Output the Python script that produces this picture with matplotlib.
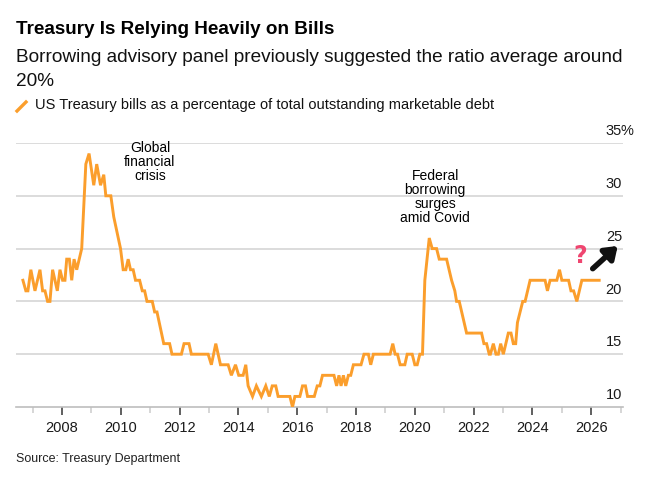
import matplotlib
matplotlib.use('Agg')
import matplotlib.pyplot as plt
import matplotlib.transforms as mtransforms
from matplotlib.lines import Line2D
import numpy as np

plt.rcParams['font.family'] = ['Liberation Sans', 'DejaVu Sans']

# vertices of the bills share line (decimal year, % of marketable debt)
years = [2006.67, 2006.77, 2006.84, 2006.94, 2007.08, 2007.25, 2007.34, 2007.42, 2007.51, 2007.59,
         2007.68, 2007.84, 2007.93, 2008.02, 2008.10, 2008.16, 2008.25, 2008.33, 2008.41, 2008.50,
         2008.67, 2008.81, 2008.92, 2009.08, 2009.18, 2009.31, 2009.42, 2009.49, 2009.66, 2009.76,
         2009.99, 2010.08, 2010.17, 2010.25, 2010.33, 2010.42, 2010.50, 2010.64, 2010.73, 2010.81,
         2010.89, 2011.07, 2011.15, 2011.23, 2011.46, 2011.66, 2011.74, 2012.06, 2012.15, 2012.32,
         2012.40, 2012.97, 2013.08, 2013.23, 2013.39, 2013.65, 2013.76, 2013.90, 2014.01, 2014.16,
         2014.25, 2014.33, 2014.48, 2014.61, 2014.78, 2014.93, 2015.05, 2015.15, 2015.27, 2015.35,
         2015.75, 2015.84, 2015.92, 2016.09, 2016.18, 2016.28, 2016.35, 2016.58, 2016.68, 2016.77,
         2016.86, 2017.25, 2017.34, 2017.42, 2017.49, 2017.57, 2017.65, 2017.74, 2017.82, 2017.91,
         2018.17, 2018.27, 2018.42, 2018.50, 2018.59, 2019.16, 2019.25, 2019.33, 2019.41, 2019.50,
         2019.66, 2019.74, 2019.91, 2020.00, 2020.08, 2020.17, 2020.26, 2020.34, 2020.49, 2020.59,
         2020.74, 2020.83, 2021.08, 2021.25, 2021.36, 2021.42, 2021.51, 2021.76, 2022.27, 2022.35,
         2022.44, 2022.53, 2022.57, 2022.67, 2022.76, 2022.84, 2022.92, 2023.01, 2023.18, 2023.27,
         2023.35, 2023.43, 2023.49, 2023.67, 2023.75, 2023.92, 2024.43, 2024.51, 2024.60, 2024.83,
         2024.92, 2025.00, 2025.23, 2025.31, 2025.40, 2025.51, 2025.68, 2026.27]
share = [22, 21, 21, 23, 21, 23, 21, 21, 20, 20,
         23, 21, 23, 22, 22, 24, 24, 22, 24, 23,
         25, 33, 34, 31, 33, 31, 32, 30, 30, 28,
         25, 23, 23, 24, 23, 23, 22, 22, 21, 21,
         20, 20, 19, 19, 16, 16, 15, 15, 16, 16,
         15, 15, 14, 16, 14, 14, 13, 14, 13, 13,
         14, 12, 11, 12, 11, 12, 11, 12, 12, 11,
         11, 10, 11, 11, 12, 12, 11, 11, 12, 12,
         13, 13, 12, 13, 12, 13, 12, 13, 13, 14,
         14, 15, 15, 14, 15, 15, 16, 15, 15, 14,
         14, 15, 15, 14, 14, 15, 15, 22, 26, 25,
         25, 24, 24, 22, 21, 20, 20, 17, 17, 16,
         16, 15, 15, 16, 15, 15, 16, 15, 17, 17,
         16, 16, 18, 20, 20, 22, 22, 21, 22, 22,
         23, 22, 22, 21, 21, 20, 22, 22]

y_ticks = [10, 15, 20, 25, 30, 35]
x_major = list(range(2008, 2027, 2))
x_minor = list(range(2007, 2028, 2))

orange = '#fb9e2c'
grid_c = '#d6d6d6'

fig = plt.figure(figsize=(6.52, 4.91), dpi=100)
ax = fig.add_axes([16/652, 1 - 407/491, (623 - 16)/652, (407 - 143)/491])
ax.set_xlim(2006.435, 2027.08)
ax.set_ylim(10, 35)

for v in y_ticks[1:]:
    ax.axhline(v, color=grid_c, lw=1.2, zorder=1)

ax.plot(years, share, color=orange, lw=2.1, zorder=3, solid_joinstyle='miter')

for s in ['top', 'right', 'left']:
    ax.spines[s].set_visible(False)
ax.spines['bottom'].set_color('#bdbdbd')
ax.spines['bottom'].set_linewidth(1.2)
ax.set_yticks([])
ax.set_xticks(x_major)
ax.set_xticklabels([str(y) for y in x_major], fontsize=10.5, color='#1a1a1a')
ax.set_xticks(x_minor, minor=True)
ax.tick_params(axis='x', which='major', length=6, width=1.2, color='#444444', pad=4)
ax.tick_params(axis='x', which='minor', length=4, width=1.2, color='#cfcfcf')

# right-side value labels sitting above the gridlines
trans = mtransforms.blended_transform_factory(ax.transAxes, ax.transData)
for v in y_ticks:
    ax.text(0.9985, v + 0.45, str(v), transform=trans, ha='right', va='bottom',
            fontsize=10.5, color='#1a1a1a')
pct_trans = trans + mtransforms.ScaledTranslation(-1.5/100, 0, fig.dpi_scale_trans)
ax.text(0.9985, 35 + 0.45, '%', transform=pct_trans, ha='left', va='bottom',
        fontsize=10.5, color='#1a1a1a')

ax.text(2010.99, 35.15, 'Global\nfinancial\ncrisis', ha='center', va='top',
        fontsize=10, linespacing=1.0, zorder=4)
ax.text(2020.69, 32.55, 'Federal\nborrowing\nsurges\namid Covid', ha='center', va='top',
        fontsize=10, linespacing=1.0, zorder=4)

# question mark and arrow near the latest reading
ax.text(2025.63, 24.3, '?', ha='center', va='center', fontsize=17, fontweight='bold',
        color='#ef4670', family='DejaVu Sans')
ax.annotate('', xy=(2026.9, 25.25), xytext=(2026.05, 23.1),
            arrowprops=dict(arrowstyle='-|>,head_length=0.7,head_width=0.5',
                            color='#111111', lw=4, shrinkA=0, shrinkB=0),
            annotation_clip=False)

fig.text(16/652, 1 - 30/491, 'Treasury Is Relying Heavily on Bills', fontsize=13.6,
         fontweight='bold', va='center', ha='left')
fig.text(16/652, 1 - 58/491, 'Borrowing advisory panel previously suggested the ratio average around',
         fontsize=13.7, va='center', ha='left', color='#111111')
fig.text(16/652, 1 - 81/491, '20%', fontsize=13.7, va='center', ha='left', color='#111111')
fig.add_artist(Line2D([17/652, 26/652], [1 - 111/491, 1 - 102/491], color=orange, lw=2.4,
                      transform=fig.transFigure))
fig.text(35/652, 1 - 105/491, 'US Treasury bills as a percentage of total outstanding marketable debt',
         fontsize=10.5, va='center', ha='left', color='#111111')
fig.text(16/652, 1 - 459/491, 'Source: Treasury Department', fontsize=9, va='center',
         ha='left', color='#222222')

fig.savefig('out.png', dpi=100)
